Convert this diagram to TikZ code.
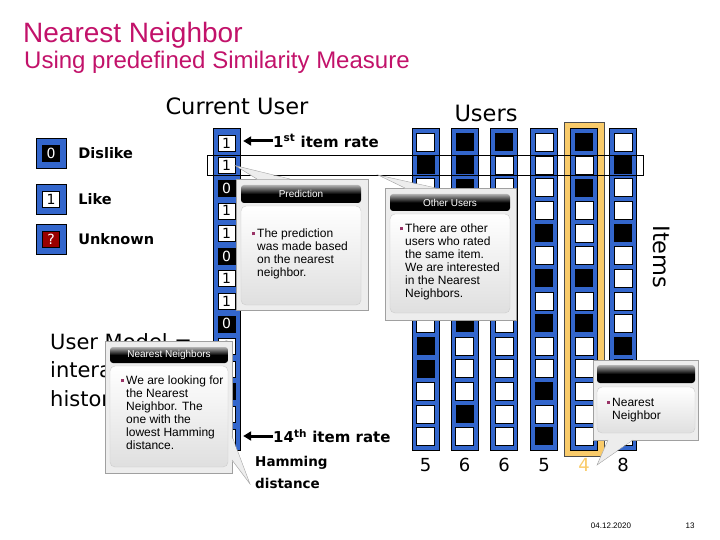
\documentclass[tikz,border=0pt]{standalone}
\usepackage{fontspec}
\setmainfont{Liberation Sans}
\newfontfamily\comic{DejaVu Sans}
\usetikzlibrary{arrows.meta, positioning, fit, calc}
\definecolor{ttl}{HTML}{C2126A}
\definecolor{colblue}{HTML}{3366CC}
\definecolor{hilite}{HTML}{F9CB6A}
\definecolor{unk}{HTML}{990000}
\definecolor{bulc}{HTML}{993366}
\definecolor{cofill}{HTML}{EDEDED}
\definecolor{coline}{HTML}{A0A0A0}
\newcommand{\bul}{\llap{\textcolor{bulc}{\rule[2.5pt]{3pt}{3pt}}\hspace{2.5pt}}}
\tikzset{
  colbar/.style={draw=black, fill=colblue, minimum width=27pt, minimum height=322pt, inner sep=0pt},
  cell1/.style={draw=black, fill=white, minimum size=18pt, inner sep=0pt},
  cell0/.style={fill=black, minimum size=18pt, inner sep=0pt},
  cur1/.style={draw=black, fill=white, minimum width=17pt, minimum height=16pt, inner sep=0pt,
    font=\comic\fontsize{14}{14}\selectfont, text=black},
  cur0/.style={cur1, fill=black, text=white},
  curq/.style={cur1, fill=unk, text=white},
  legbox/.style={draw=black, fill=colblue, minimum size=30pt, inner sep=0pt},
  leglbl/.style={font=\comic\bfseries\fontsize{14.5}{16}\selectfont, inner sep=0pt},
  hlbox/.style={draw=black!70, fill=hilite, inner sep=0pt},
  rowbox/.style={draw=black, thin, inner sep=0pt},
  score/.style={font=\comic\fontsize{18}{18}\selectfont, inner sep=0pt},
  big/.style={font=\comic\fontsize{22.5}{26}\selectfont, inner sep=0pt},
  ratelbl/.style={font=\comic\bfseries\fontsize{15}{18}\selectfont, inner sep=0pt},
  fat/.style={-{Triangle[length=8pt, width=9pt]}, line width=3pt},
  coframe/.style={draw=coline, fill=cofill, inner sep=0pt},
  cotitle/.style={rounded corners=3pt, top color=gray!60, bottom color=black, middle color=black, inner sep=0pt},
  cohead/.style={text=white, inner sep=0pt, font=\fontsize{10}{12}\selectfont},
  copanel/.style={draw=gray!40, rounded corners=5pt, top color=white, bottom color=gray!25, inner sep=0pt},
  cotext/.style={align=left, inner sep=0pt, anchor=north west, font=\fontsize{12}{13}\selectfont},
}
\begin{document}
\begin{tikzpicture}[x=1pt, y=-1pt]
\useasboundingbox (0,0) rectangle (720,540);

% ---- titles ----
\node[anchor=base west, inner sep=0pt, text=ttl, font=\fontsize{28}{32}\selectfont] (title) at (23,43) {Nearest Neighbor};
\node[anchor=base west, inner sep=0pt, text=ttl, font=\fontsize{24}{26}\selectfont] (subtitle) at (24,69) {Using predefined Similarity Measure};

% ---- legend ----
\node[legbox] (dis) at (51,153) {};
\node[cur0] (dis-v) at (dis) {0};
\node[leglbl, right=12pt of dis] (dis-l) {Dislike};
\node[legbox] (like) at (51,199.5) {};
\node[cur1] (like-v) at (like) {1};
\node[leglbl, right=12pt of like] (like-l) {Like};
\node[legbox] (unkn) at (51,239) {};
\node[curq] (unkn-v) at (unkn) {?};
\node[leglbl, right=12pt of unkn] (unkn-l) {Unknown};

% ---- user model text (partly behind callout) ----
\node[anchor=north west, align=left, inner sep=0pt, font=\comic\fontsize{21}{28.5}\selectfont] (umodel) at (50,333) {User Model =\\interaction\\history};

% ---- current user column ----
\node[big] (curlbl) at (237,106) {Current User};
\node[colbar] (cur) at (226.5,289.5) {};
\foreach \v [count=\r] in {1,1,0,1,1,0,1,1,0,1,1,0,1,1}
  \node[cur\v] (cur-\r) at (226.5,{143+22.6*(\r-1)}) {\v};

% ---- users columns ----
\node[big] (userslbl) at (486,113) {Users};
\node[big, rotate=-90] (itemslbl) at (662,257) {Items};
\node[hlbox, fit={(564,122)(604,456)}] (nn-hl) {};
\foreach \c/\xx/\pat in {1/425.5/{1,0,1,1,1,1,1,1,1,0,0,1,1,1},
                         2/464.5/{0,0,0,1,1,1,1,1,0,1,1,1,0,1},
                         3/504/{0,1,1,1,1,1,1,1,1,1,1,1,1,1},
                         4/544/{1,1,1,1,0,1,0,1,0,1,1,0,1,0},
                         5/584/{0,1,0,1,1,1,0,1,0,1,1,1,1,1},
                         6/623/{1,0,1,1,0,1,1,1,1,0,1,1,1,1}}{
  \node[colbar] (u\c) at (\xx,289.5) {};
  \foreach \v [count=\r] in \pat
    \node[cell\v] (u\c-\r) at (\xx,{142.5+22.6*(\r-1)}) {};
}
\foreach \c/\n in {1/5, 2/6, 3/6, 4/5, 6/8}
  \node[score, below=7pt of u\c] (s\c) {\n};
\node[score, below=7pt of u5, text=hilite] (s5) {4};

% ---- compared row ----
\node[rowbox, fit={(207,155)(643,175)}] (row2) {};

% ---- item rate arrows ----
\node[ratelbl, anchor=west] (rate1) at (273,141) {1\textsuperscript{st} item rate};
\draw[fat, shorten >=3pt] (rate1.west) -- (rate1.west -| cur.east);
\node[ratelbl, anchor=west] (rate14) at (273,436) {14\textsuperscript{th} item rate};
\draw[fat, shorten >=3pt] (rate14.west) -- (rate14.west -| cur.east);
\node[ratelbl, anchor=north west, align=left, font=\comic\bfseries\fontsize{13.5}{22}\selectfont] (ham) at (255,456) {Hamming\\distance};

% ---- callout: prediction ----
\node[coframe, fit={(236,179)(368,310)}] (predf) {};
\fill[cofill] (cur-2.east) -- (257,179.5) -- (290,179.5) -- cycle;
\draw[coline] (257,179) -- (cur-2.east) -- (290,179);
\node[cotitle, fit={(241,185)(361,203)}] (predt) {};
\node[cohead] (predh) at (predt) {Prediction};
\node[copanel, fit={(241,206)(361,305)}] (predp) {};
\node[cotext] (predx) at (257,229) {\bul The prediction\\was made based\\on the nearest\\neighbor.};

% ---- callout: other users ----
\node[coframe, fit={(385,188)(516,320)}] (othf) {};
\fill[cofill] (378,175) -- (405,188.5) -- (436,188.5) -- cycle;
\draw[coline] (405,188) -- (378,175) -- (436,188);
\node[cotitle, fit={(390,194)(510,211)}] (otht) {};
\node[cohead] (othh) at (otht) {Other Users};
\node[copanel, fit={(390,214)(510,313)}] (othp) {};
\node[cotext] (othx) at (405,224) {\bul There are other\\users who rated\\the same item.\\We are interested\\in the Nearest\\Neighbors.};

% ---- callout: nearest neighbors ----
\node[coframe, fit={(105,341)(232,473)}] (nnsf) {};
\fill[cofill] (231.5,436) -- (250,484) -- (231.5,460) -- cycle;
\draw[coline] (232,436) -- (250,484) -- (232,460);
\node[cotitle, fit={(110,347)(228,363)}] (nnst) {};
\node[cohead] (nnsh) at (nnst) {Nearest Neighbors};
\node[copanel, fit={(110,366)(228,467)}] (nnsp) {};
\node[cotext] (nnsx) at (126,376) {\bul We are looking for\\the Nearest\\Neighbor. The\\one with the\\lowest Hamming\\distance.};

% ---- callout: nearest neighbor ----
\node[coframe, fit={(593,360)(698,440)}] (nnf) {};
\fill[cofill] (608,439.5) -- (597,465) -- (633,439.5) -- cycle;
\draw[coline] (608,440) -- (597,465) -- (633,440);
\node[cotitle, fit={(597,365)(695,383)}] (nnt) {};
\node[copanel, fit={(597,387)(695,433)}] (nnp) {};
\node[cotext] (nnx) at (612,398) {\bul Nearest\\Neighbor};

% ---- footer ----
\node[font=\fontsize{8}{8}\selectfont] (date) at (611,526) {04.12.2020};
\node[font=\fontsize{8}{8}\selectfont] (page) at (690,526) {13};
\end{tikzpicture}
\end{document}
